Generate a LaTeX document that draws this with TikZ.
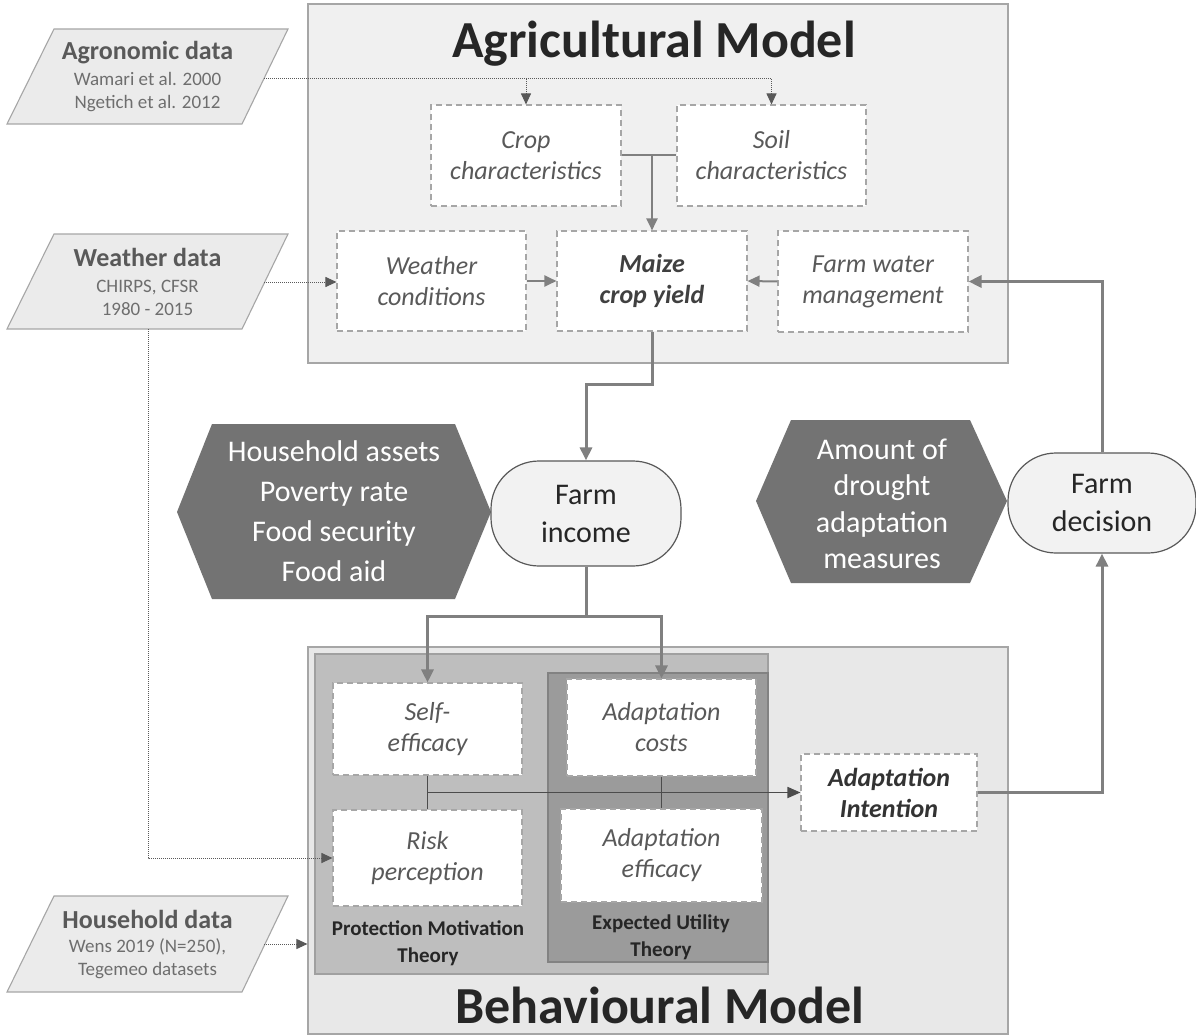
\documentclass[tikz,border=0pt]{standalone}
\usepackage{fontspec}
\setmainfont{Carlito}
\usetikzlibrary{arrows.meta}

\definecolor{agrifill}{HTML}{F0F0F0}
\definecolor{behfill}{HTML}{E8E8E8}
\definecolor{framecol}{HTML}{A6A6A6}
\definecolor{pmtfill}{HTML}{BEBEBE}
\definecolor{pmtdraw}{HTML}{A0A0A0}
\definecolor{eutfill}{HTML}{9B9B9B}
\definecolor{eutdraw}{HTML}{828282}
\definecolor{hexfill}{HTML}{737373}
\definecolor{datafill}{HTML}{EBEBEB}
\definecolor{termfill}{HTML}{F2F2F2}
\definecolor{termdraw}{HTML}{595959}
\definecolor{flowcol}{HTML}{808080}
\definecolor{textgray}{HTML}{595959}
\definecolor{subgray}{HTML}{6E6E6E}
\definecolor{darktext}{HTML}{262626}

\tikzset{
  modelbox/.style={draw=framecol, line width=1.2pt, minimum width=#1},
  varbox/.style={draw=framecol, fill=white, dash pattern=on 6pt off 4pt,
    line width=1.1pt, align=center, inner sep=0pt, text=textgray,
    font=\fontsize{26}{31}\selectfont\itshape},
  keybox/.style={varbox, text=black!75, font=\fontsize{26}{31}\selectfont\bfseries\itshape},
  terminal/.style={draw=termdraw, fill=termfill, line width=1.2pt, rounded corners=48pt,
    align=center, inner sep=0pt, text=darktext, font=\fontsize{30}{38}\selectfont},
  hexshape/.style={fill=hexfill},
  hextext/.style={text=white, align=center, inner sep=0pt},
  datashape/.style={fill=datafill, draw=framecol, line width=1.1pt},
  datatext/.style={align=center, inner sep=0pt, text=subgray, font=\fontsize{19}{23}\selectfont},
  theorytext/.style={align=center, inner sep=0pt, text=darktext,
    font=\fontsize{21}{27}\selectfont\bfseries},
  titletext/.style={anchor=base, inner sep=0pt, text=darktext,
    font=\fontsize{52}{60}\selectfont\bfseries},
  flow/.style={draw=flowcol, line width=3pt, -{Triangle[length=13pt, width=12pt]}},
  inner/.style={draw=flowcol, line width=2pt},
  innerarrow/.style={inner, -{Triangle[length=12pt, width=11pt]}},
  joinline/.style={draw=black!70, line width=1.8pt},
  dataflow/.style={draw=black!65, line width=1pt, densely dotted,
    -{Triangle[length=11pt, width=10pt]}},
}

\begin{document}
\begin{tikzpicture}[x=1pt, y=-1pt]
  % canvas
  \path[fill=white, use as bounding box] (0,0) rectangle (1196,1035);

  % model frames
  \node[modelbox=700pt, fill=agrifill, minimum height=359pt] (agri) at (658,183.5) {};
  \node[modelbox=700pt, fill=behfill, minimum height=387pt] (beh) at (658,840.5) {};
  \node[draw=pmtdraw, fill=pmtfill, line width=1.2pt, minimum width=453pt, minimum height=320pt] (pmt) at (541.5,814) {};
  \node[draw=eutdraw, fill=eutfill, line width=1.2pt, minimum width=220pt, minimum height=289pt] (eut) at (658,817.5) {};

  \node[titletext] (agrititle) at (654,58) {Agricultural Model};
  \node[titletext] (behtitle) at (660,1023) {Behavioural Model};

  % agricultural model variables
  \node[varbox, minimum width=190pt, minimum height=101pt] (crop) at (526,155.5) {Crop\\characteristics};
  \node[varbox, minimum width=189pt, minimum height=101pt] (soil) at (771.5,155.5) {Soil\\characteristics};
  \node[varbox, minimum width=189pt, minimum height=100pt] (wcond) at (431.5,281) {Weather\\conditions};
  \node[keybox, minimum width=190pt, minimum height=100pt] (maize) at (652,281) {Maize\\crop yield};
  \node[varbox, minimum width=190pt, minimum height=101pt] (water) at (873,281.5) {Farm water\\management};

  % behavioural model variables
  \node[varbox, minimum width=189pt, minimum height=92pt] (selfeff) at (427.5,729) {Self-\\efficacy};
  \node[varbox, minimum width=189pt, minimum height=96pt] (risk) at (427.5,858) {Risk\\perception};
  \node[varbox, minimum width=189pt, minimum height=97pt] (costs) at (661.5,727.5) {Adaptation\\costs};
  \node[varbox, minimum width=201pt, minimum height=93pt] (effic) at (661.5,855.5) {Adaptation\\efficacy};
  \node[keybox, text=black!80, minimum width=176pt, minimum height=77pt] (intent) at (889,792.5) {Adaptation\\Intention};

  \node[theorytext] (pmtlabel) at (428,943.5) {Protection Motivation\\Theory};
  \node[theorytext] (eutlabel) at (661,937.5) {Expected Utility\\Theory};

  % outcome indicators
  \path[hexshape] (177,512) -- (212,424) -- (455,424) -- (491,512) -- (455,599) -- (212,599) -- cycle;
  \node[hextext, font=\fontsize{30}{40}\selectfont] (hhind) at (334,511)
    {Household assets\\Poverty rate\\Food security\\Food aid};
  \path[hexshape] (756,501) -- (791,420) -- (970,420) -- (1007,501) -- (970,583) -- (791,583) -- cycle;
  \node[hextext, font=\fontsize{30}{36.5}\selectfont] (adind) at (882,504)
    {Amount of\\drought\\adaptation\\measures};

  % farm level terminals
  \node[terminal, minimum width=190pt, minimum height=105pt] (income) at (586,513.5) {Farm\\income};
  \node[terminal, minimum width=188pt, minimum height=100pt] (decision) at (1102,503) {Farm\\decision};

  % data sources
  \path[datashape] (54,29) -- (288,29) -- (242,124) -- (7,124) -- cycle;
  \node[datatext] (agro) at (147.5,77)
    {{\fontsize{26}{28}\selectfont\bfseries\color{textgray}Agronomic data}\\[3pt]Wamari et al. 2000\\Ngetich et al. 2012};
  \coordinate (agroR) at (264,79);

  \path[datashape] (54,234) -- (288,234) -- (242,329) -- (7,329) -- cycle;
  \node[datatext] (wdata) at (147.5,282)
    {{\fontsize{26}{28}\selectfont\bfseries\color{textgray}Weather data}\\[3pt]CHIRPS, CFSR\\1980 - 2015};
  \coordinate (wdataR) at (264,282);
  \coordinate (wdataB) at (148,329);

  \path[datashape] (54,896) -- (288,896) -- (242,992) -- (7,992) -- cycle;
  \node[datatext] (hhdata) at (147.5,944)
    {{\fontsize{26}{28}\selectfont\bfseries\color{textgray}Household data}\\[1pt]Wens 2019 (N=250),\\Tegemeo datasets};
  \coordinate (hhdataR) at (264,944);

  % data inputs
  \draw[dataflow] (agroR) -| (soil.north);
  \draw[dataflow] (agroR -| crop.north) -- (crop.north);
  \draw[dataflow] (wdataR) -- (wdataR -| wcond.west);
  \draw[dataflow] (wdataB) |- (risk.west);
  \draw[dataflow] (hhdataR) -- (hhdataR -| beh.west);

  % crop model links
  \draw[inner] (crop.east) -- (soil.west);
  \draw[innerarrow] (crop.east -| maize.north) -- (maize.north);
  \draw[innerarrow] (wcond.east) -- (maize.west);
  \draw[innerarrow] (water.west) -- (maize.east);

  % coupling between the models
  \draw[flow] (maize.south) -- ++(0,53) -| (income.north);
  \draw[flow] (income.south) -- ++(0,50) coordinate (split) -| (selfeff.north);
  \draw[flow] (split) -| (costs.north);
  \draw[flow] (intent.east) -| (decision.south);
  \draw[flow] (decision.north) |- (water.east);

  % behavioural links
  \draw[joinline] (selfeff.south) -- (risk.north);
  \draw[joinline] (costs.south) -- (effic.north);
  \draw[joinline, -{Triangle[length=13pt, width=11pt]}] (selfeff.south |- intent.west) -- (intent.west);
\end{tikzpicture}
\end{document}
